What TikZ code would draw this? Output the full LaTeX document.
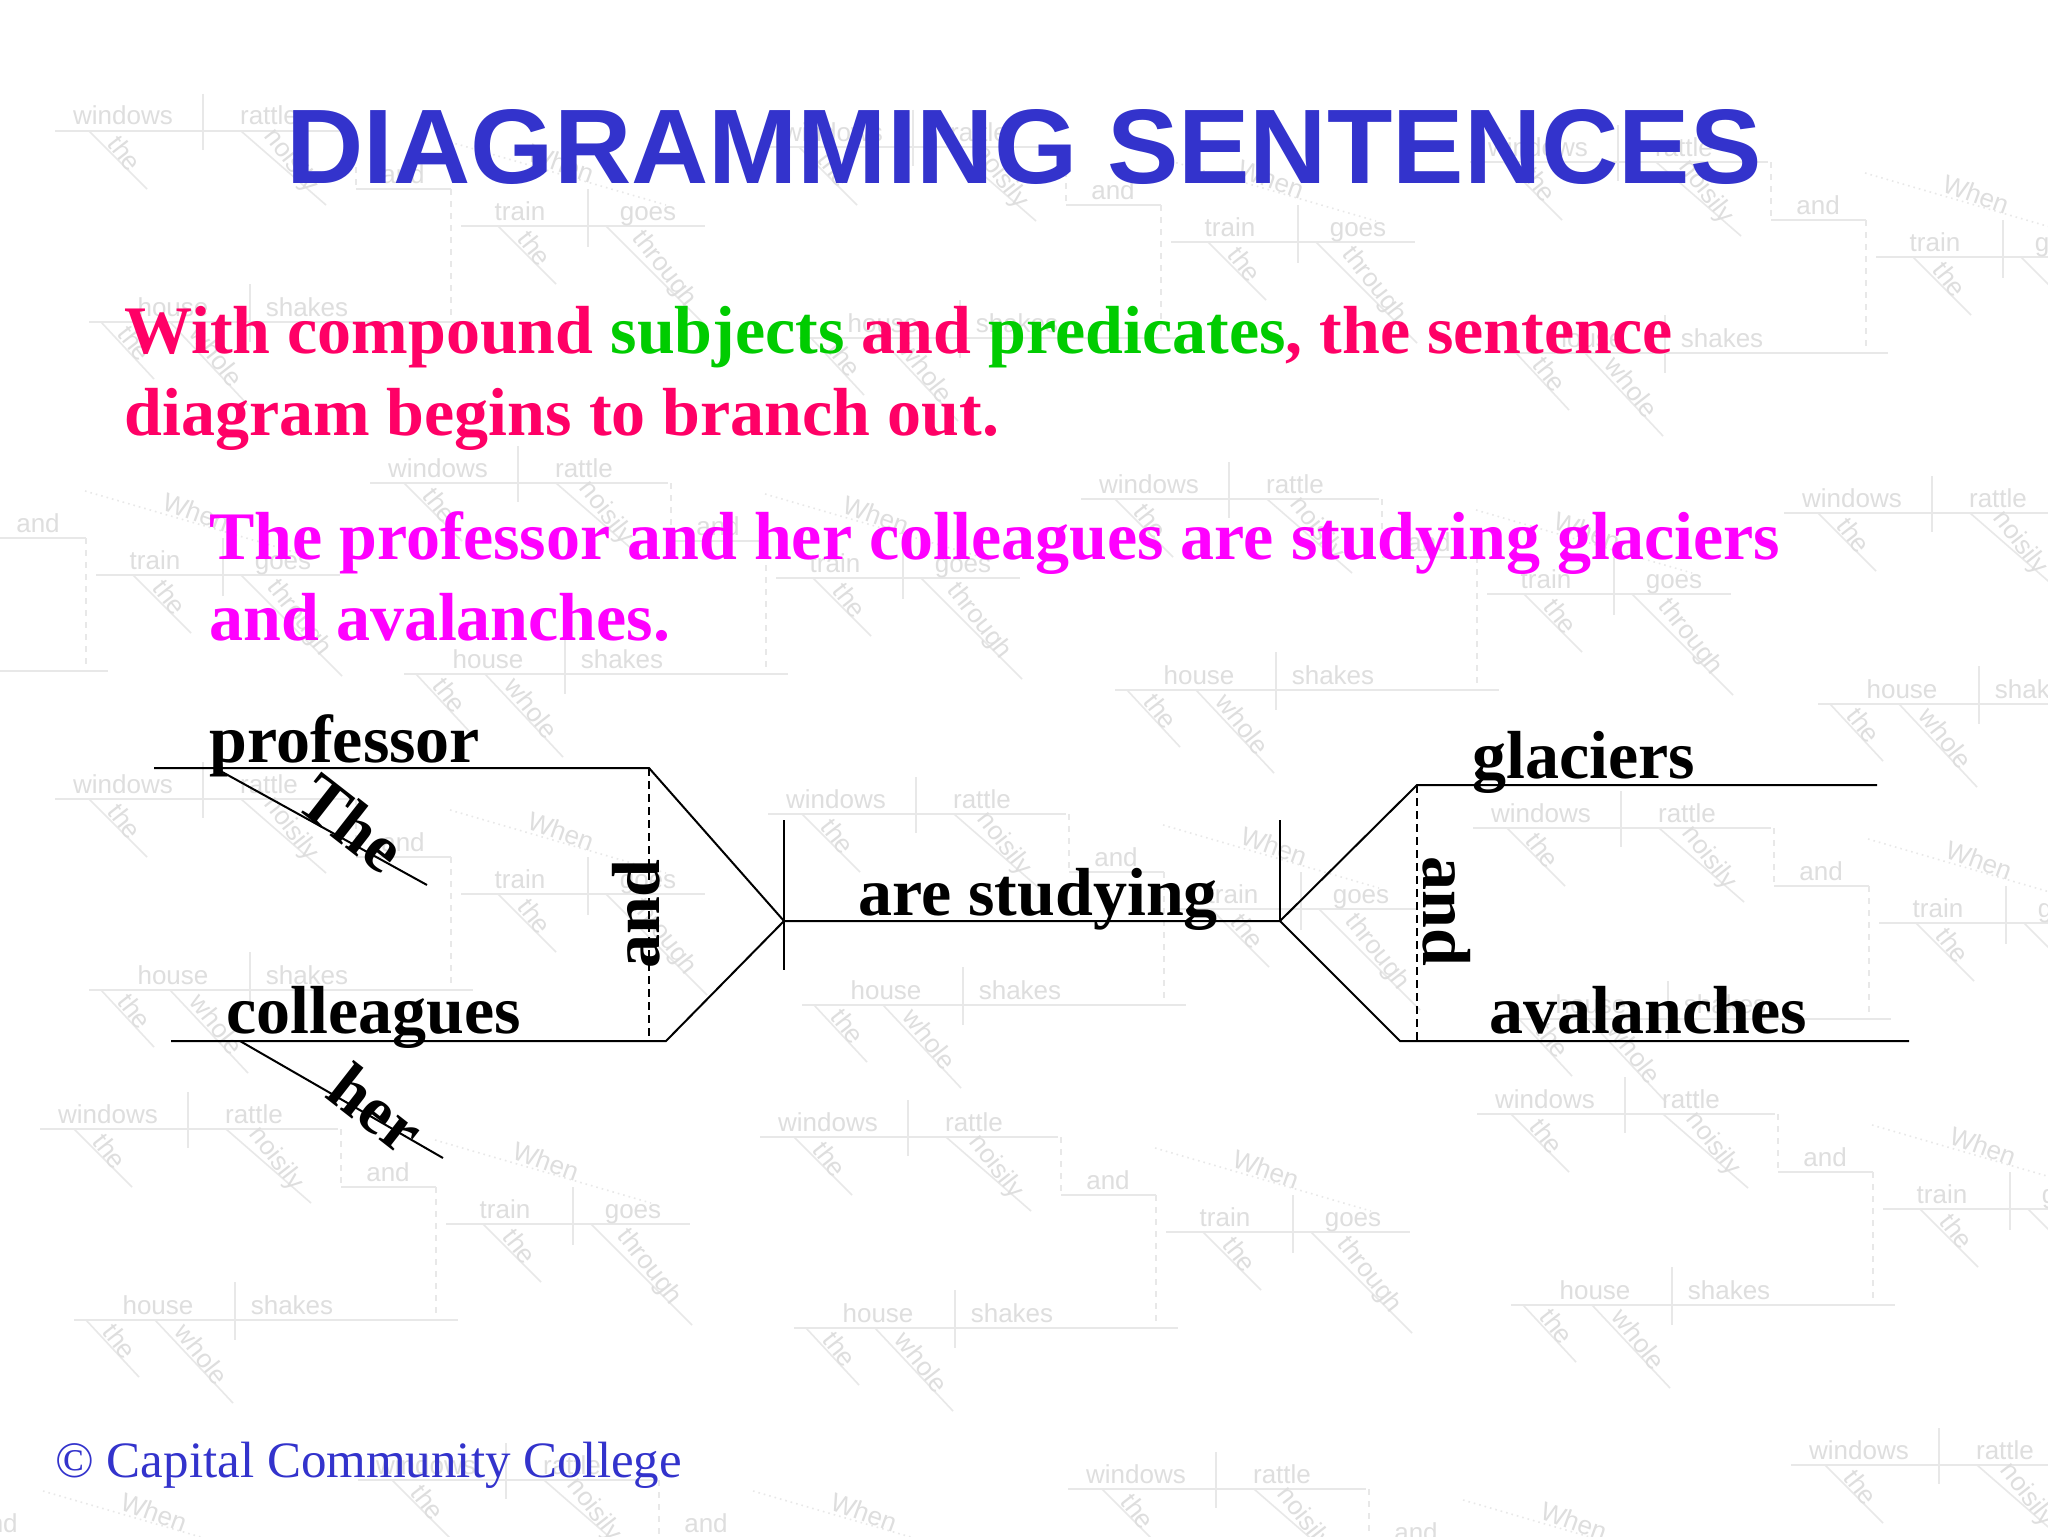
\documentclass[tikz,border=0pt]{standalone}
\usepackage{fontspec}
\setmainfont{Liberation Serif}
\setsansfont{Liberation Sans}
\usetikzlibrary{positioning}

\definecolor{titleblue}{RGB}{51,51,204}
\definecolor{pointred}{RGB}{255,0,102}
\definecolor{pointgreen}{RGB}{0,204,0}
\definecolor{examplemagenta}{RGB}{255,0,255}
\definecolor{wmline}{RGB}{232,232,232}
\definecolor{wmtext}{RGB}{222,222,222}

\newcommand{\wordfont}{\fontsize{34}{41}\selectfont\bfseries}
\newcommand{\titlefont}{\fontsize{53}{60}\selectfont\sffamily\bfseries}
\newcommand{\wmfont}{\fontsize{13}{15}\selectfont\sffamily}

% faint sentence diagram in the background
\tikzset{
  wm/.style={draw=wmline, line width=0.8pt},
  wmword/.style={font=\wmfont, text=wmtext, inner sep=0pt},
  wmslant/.style={wmword, rotate=-52},
  wmtile/.pic={
    \draw[wm] (0,0) -- (298,0);
    \draw[wm] (148,-37) -- (148,19);
    \node[wmword, anchor=base] (-windows) at (68,-6) {windows};
    \node[wmword, anchor=base] (-rattle) at (214,-6) {rattle};
    \draw[wm] (34,0) -- (92,58);
    \node[wmslant] (-the1) at (70,22) {the};
    \draw[wm] (186,0) -- (271,74);
    \node[wmslant] (-noisily) at (236,30) {noisily};
    \draw[wm, dashed] (301,0) -- (301,58);
    \draw[wm] (301,58) -- (396,58);
    \node[wmword, anchor=base] (-and) at (348,52) {and};
    \draw[wm, dashed] (396,58) -- (396,191);
    \draw[wm] (34,191) -- (418,191);
    \draw[wm] (195,153) -- (195,211);
    \node[wmword, anchor=base] (-house) at (118,185) {house};
    \node[wmword, anchor=base] (-shakes) at (252,185) {shakes};
    \draw[wm] (46,191) -- (99,248);
    \node[wmslant] (-the2) at (80,212) {the};
    \draw[wm] (115,191) -- (193,274);
    \node[wmslant] (-whole) at (162,225) {whole};
    \draw[wm, dotted] (395,11) -- (611,74);
    \node[wmword, rotate=-20] (-when) at (506,32) {When};
    \draw[wm] (406,95) -- (650,95);
    \draw[wm] (533,58) -- (533,116);
    \node[wmword, anchor=base] (-train) at (465,89) {train};
    \node[wmword, anchor=base] (-goes) at (593,89) {goes};
    \draw[wm] (443,95) -- (501,153);
    \node[wmslant] (-the3) at (480,117) {the};
    \draw[wm] (551,95) -- (652,196);
    \node[wmslant] (-through) at (609,138) {through};
  }
}

\begin{document}
\begin{tikzpicture}[
    x=0.5pt, y=-0.5pt,
    word/.style={font=\wordfont, inner sep=0pt},
    diagline/.style={line width=1pt},
    split/.style={line width=1pt, dash pattern=on 4pt off 2.5pt}
  ]

  \clip (0,0) rectangle (2048,1536);
  \fill[white] (0,0) rectangle (2048,1536);

  \foreach \tx/\ty [count=\k] in {55/131, 765/147, 1470/162,
      -310/480, 370/483, 1081/499, 1784/513,
      55/799, 768/814, 1473/828,
      40/1129, 760/1137, 1477/1114,
      -352/1480, 358/1480, 1068/1489, 1791/1465}
    \pic (tile\k) at (\tx,\ty) {wmtile};

  % heading
  \node[font=\titlefont, text=titleblue, anchor=base, xscale=1.01] (title) at (1024,183) {DIAGRAMMING SENTENCES};
  \node[word, text=pointred, anchor=base west] (point1) at (124,353)
    {With compound \textcolor{pointgreen}{subjects} and \textcolor{pointgreen}{predicates}, the sentence};
  \node[word, text=pointred, anchor=base west] (point2) at (124,435) {diagram begins to branch out.};
  \node[word, text=examplemagenta, anchor=base west] (example1) at (209,559)
    {The professor and her colleagues are studying glaciers};
  \node[word, text=examplemagenta, anchor=base west] (example2) at (209,640) {and avalanches.};

  % the diagram
  \coordinate (profL) at (154,768);
  \coordinate (profR) at (649,768);
  \coordinate (colL) at (171,1041);
  \coordinate (colR) at (666,1041);
  \coordinate (subjD) at (649,1041);
  \coordinate (fork) at (784,921);
  \coordinate (forkT) at (784,820);
  \coordinate (forkB) at (784,970);
  \coordinate (join) at (1280,921);
  \coordinate (joinT) at (1280,820);
  \coordinate (glacL) at (1417,785);
  \coordinate (glacR) at (1877,785);
  \coordinate (avalL) at (1400,1041);
  \coordinate (avalR) at (1909,1041);
  \coordinate (objD) at (1417,1041);
  \coordinate (theA) at (215,768);
  \coordinate (theB) at (427,885);
  \coordinate (herA) at (240,1041);
  \coordinate (herB) at (443,1158);

  \draw[diagline] (profL) -- (profR) -- (fork) -- (join) -- (glacL) -- (glacR);
  \draw[diagline] (colL) -- (colR) -- (fork);
  \draw[diagline] (join) -- (avalL) -- (avalR);
  \draw[diagline] (forkT) -- (forkB);
  \draw[diagline] (joinT) -- (join);
  \draw[split] (profR) -- (subjD);
  \draw[split] (glacL) -- (objD);
  \draw[diagline] (theA) -- (theB);
  \draw[diagline] (herA) -- (herB);

  \node[word, anchor=base west] (professor) at (209,762) {professor};
  \node[word, anchor=base west] (colleagues) at (226,1033) {colleagues};
  \node[word, anchor=base west] (verb) at (858,915) {are studying};
  \node[word, anchor=base west] (glaciers) at (1472,778) {glaciers};
  \node[word, anchor=base west] (avalanches) at (1489,1033) {avalanches};
  \node[word, rotate=90, anchor=base] (andL) at (659,914) {and};
  \node[word, rotate=-90, anchor=base] (andR) at (1423,911) {and};
  \node[word, rotate=-38] (the) at (352,823) {The};
  \node[word, rotate=-38] (her) at (377,1108) {her};

  \node[font=\fontsize{25.5}{30}\selectfont, text=titleblue, anchor=base west, inner sep=0pt] (copy) at (55,1477)
    {\textcopyright\ Capital Community College};

\end{tikzpicture}
\end{document}
